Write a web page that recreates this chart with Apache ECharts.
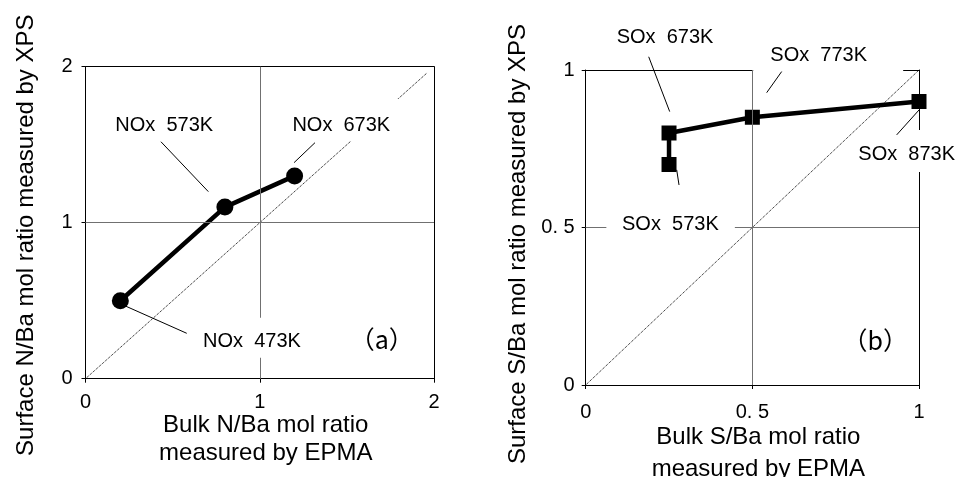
<!DOCTYPE html>
<html><head><meta charset="utf-8">
<script src="https://cdn.jsdelivr.net/npm/echarts@6/dist/echarts.min.js"></script>
<style>html,body{margin:0;padding:0;background:#fff}#c{width:956px;height:477px}</style>
</head><body><div id="c"></div>
<script>
// ---- data ----
const nBulk = [0.2, 0.8, 1.2];
const nSurface = [0.5, 1.1, 1.3];
const nTemps = ['473K', '573K', '673K'];
const sBulk = [0.25, 0.25, 0.5, 1.0];
const sSurface = [0.7, 0.8, 0.85, 0.9];
const sTemps = ['573K', '673K', '773K', '873K'];
const nTicks = ['0', '1', '2'];
const sTicks = ['0', '0. 5', '1'];
const nParity = [0, 1.96];
const sParity = [0, 1];

// ---- layout ----
const FF = '"Liberation Sans", Arial, sans-serif';
const nNotes = [
  {at: [0.9555, 0.237], box: [-57, -24, 58, 16], lead: [[0.217, 0.472], [0.581, 0.291]]},
  {at: [0.452, 1.621], box: [-52, -14, 52, 14], lead: [[0.433, 1.519], [0.705, 1.199]]},
  {at: [1.468, 1.621], box: [-55, -26.8, 58.7, 15.2], lead: [[1.317, 1.513], [1.197, 1.385]]}
];
const sNotes = [
  {at: [0.254, 0.510], box: [-64, -14, 64.5, 14], lead: [[0.273, 0.683], [0.280, 0.635]]},
  {at: [0.238, 1.103], box: [-50, -12, 50, 12], lead: [[0.189, 1.042], [0.252, 0.868]]},
  {at: [0.699, 1.045], box: [-65.5, -16, 84.5, 18], lead: [[0.588, 0.995], [0.543, 0.928]]},
  {at: [0.963, 0.733], box: [-50, -24, 50, 18], lead: [[1.0, 0.873], [0.933, 0.794]]}
];
const tags = [{text: '（a）', grid: 0, at: [1.70, 0.254]}, {text: '（b）', grid: 1, at: [0.869, 0.140]}];

const chart = echarts.init(document.getElementById('c'), null, {renderer: 'canvas'});

function mainX(g, max, interval, ticks, margin, name, gap, lh) {
  return {type: 'value', gridIndex: g, min: 0, max: max, interval: interval, position: 'bottom',
    axisLine: {show: true, lineStyle: {color: '#000', width: 1}},
    axisTick: {show: true, length: 4, lineStyle: {color: '#000'}},
    axisLabel: {margin: margin, fontSize: 20, color: '#000', fontFamily: FF,
      formatter: v => ticks[Math.round(v / interval)]},
    splitLine: {show: false},
    name: name, nameLocation: 'middle', nameGap: gap, nameMoveOverlap: false,
    nameTextStyle: {fontSize: 24, color: '#000', fontFamily: FF, lineHeight: lh, verticalAlign: 'top', padding: [0, 0, 0, 12]}
  };
}
function mainY(g, max, interval, ticks, margin, name, gap, pr) {
  return {type: 'value', gridIndex: g, min: 0, max: max, interval: interval, position: 'left',
    axisLine: {show: true, lineStyle: {color: '#000', width: 1}},
    axisTick: {show: true, length: 4, lineStyle: {color: '#000'}},
    axisLabel: {margin: margin, fontSize: 20, color: '#000', fontFamily: FF,
      formatter: v => ticks[Math.round(v / interval)]},
    splitLine: {show: false},
    name: name, nameLocation: 'middle', nameGap: gap, nameMoveOverlap: false,
    nameTextStyle: {fontSize: 24, color: '#000', fontFamily: FF, padding: [0, pr, 0, 0]}
  };
}
function frame(g, max, pos) {
  return {type: 'value', gridIndex: g, min: 0, max: max, position: pos,
    axisLine: {show: true, onZero: false, lineStyle: {color: '#000', width: 1}},
    axisTick: {show: false}, axisLabel: {show: false}, splitLine: {show: false}};
}

const gridLine = {color: '#707070', type: 'solid', width: 1};

chart.setOption({
  animation: false,
  grid: [
    {left: 85.5, top: 66.7, width: 348.5, height: 312, outerBoundsMode: 'none', containLabel: false},
    {left: 585.7, top: 70, width: 333.3, height: 315, outerBoundsMode: 'none', containLabel: false}
  ],
  xAxis: [
    mainX(0, 2, 1, nTicks, 14, 'Bulk N/Ba mol ratio\nmeasured by EPMA', 33, 27.7),
    frame(0, 2, 'top'),
    mainX(1, 1, 0.5, sTicks, 17, 'Bulk S/Ba mol ratio\nmeasured by EPMA', 37, 31.7),
    frame(1, 1, 'top')
  ],
  yAxis: [
    mainY(0, 2, 1, nTicks, 13, 'Surface N/Ba mol ratio measured by XPS', 47, 25),
    frame(0, 2, 'right'),
    mainY(1, 1, 0.5, sTicks, 11, 'Surface S/Ba mol ratio measured by XPS', 55, 33),
    frame(1, 1, 'right')
  ],
  series: [
    {type: 'line', xAxisIndex: 0, yAxisIndex: 0, z: 1, silent: true, showSymbol: false,
      data: nParity.map(v => [v, v]), lineStyle: {type: 'dotted', width: 1, color: '#000'},
      markLine: {silent: true, symbol: 'none', label: {show: false}, lineStyle: gridLine,
        data: [{xAxis: 1}, {yAxis: 1}]}},
    {type: 'line', xAxisIndex: 0, yAxisIndex: 0, z: 3, symbol: 'circle', symbolSize: 17,
      data: nBulk.map((x, i) => [x, nSurface[i]]),
      itemStyle: {color: '#000'}, lineStyle: {color: '#000', width: 4.5}},
    {type: 'line', xAxisIndex: 2, yAxisIndex: 2, z: 1, silent: true, showSymbol: false,
      data: sParity.map(v => [v, v]), lineStyle: {type: 'dotted', width: 1, color: '#000'},
      markLine: {silent: true, symbol: 'none', label: {show: false}, lineStyle: gridLine,
        data: [{xAxis: 0.5}, {yAxis: 0.5}]}},
    {type: 'line', xAxisIndex: 2, yAxisIndex: 2, z: 3, symbol: 'rect', symbolSize: 15,
      data: sBulk.map((x, i) => [x, sSurface[i]]),
      itemStyle: {color: '#000'}, lineStyle: {color: '#000', width: 4.5}}
  ]
});

function px(g, p) {
  const idx = g === 0 ? 0 : 2;
  return chart.convertToPixel({xAxisIndex: idx, yAxisIndex: idx}, p);
}
const graphics = [];
function addNote(g, text, note) {
  const c = px(g, note.at);
  const b = note.box;
  graphics.push({type: 'rect', z: 50, silent: true,
    shape: {x: c[0] + b[0], y: c[1] + b[1], width: b[2] - b[0], height: b[3] - b[1]},
    style: {fill: '#fff'}});
  graphics.push({type: 'text', z: 52, silent: true, x: c[0], y: c[1],
    style: {text: text, fill: '#000', font: '20px ' + FF, align: 'center', verticalAlign: 'middle'}});
  const a = px(g, note.lead[0]), e = px(g, note.lead[1]);
  graphics.push({type: 'line', z: 53, silent: true,
    shape: {x1: a[0], y1: a[1], x2: e[0], y2: e[1]}, style: {stroke: '#000', lineWidth: 1}});
}
nNotes.forEach((n, i) => addNote(0, 'NOx  ' + nTemps[i], n));
sNotes.forEach((n, i) => addNote(1, 'SOx  ' + sTemps[i], n));
tags.forEach(t => {
  const c = px(t.grid, t.at);
  graphics.push({type: 'text', z: 52, silent: true, x: c[0], y: c[1],
    style: {text: t.text, fill: '#000', font: '25px "Noto Sans CJK JP", ' + FF, align: 'center', verticalAlign: 'middle'}});
});
chart.setOption({graphic: graphics});
</script>
</body></html>
